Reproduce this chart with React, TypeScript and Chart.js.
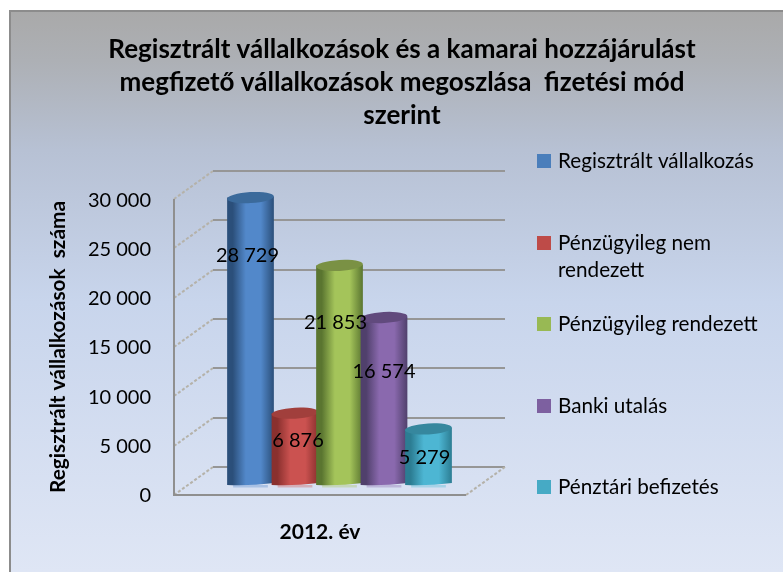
import React, { useEffect, useRef } from "react";
import { Chart, registerables, layouts } from "chart.js";

Chart.register(...registerables);

const FONT = "Lato, 'Open Sans', sans-serif";
const titleLines = [
  "Regisztrált vállalkozások és a kamarai hozzájárulást",
  "megfizető vállalkozások megoszlása  fizetési mód",
  "szerint",
];
const categories = ["2012. év"];
const yAxisTitle = "Regisztrált vállalkozások  száma";
const seriesNames = [
  "Regisztrált vállalkozás",
  "Pénzügyileg nem rendezett",
  "Pénzügyileg rendezett",
  "Banki utalás",
  "Pénztári befizetés",
];
const regisztralt = [28729];
const nemRendezett = [6876];
const rendezett = [21853];
const bankiUtalas = [16574];
const penztari = [5279];

const legendLines = [
  ["Regisztrált vállalkozás"],
  ["Pénzügyileg nem", "rendezett"],
  ["Pénzügyileg rendezett"],
  ["Banki utalás"],
  ["Pénztári befizetés"],
];

// style tables: [edge, mid, top cap, legend colour]
const palette = [
  { edge: "#2b4f7a", mid: "#5288ca", cap: "#3b6a9b", key: "#4a7ebb" },
  { edge: "#8a302e", mid: "#cb5250", cap: "#a13f3c", key: "#be4b48" },
  { edge: "#5a7530", mid: "#a4c45a", cap: "#7a9144", key: "#98b954" },
  { edge: "#50406c", mid: "#8a69ae", cap: "#614a7d", key: "#7d60a0" },
  { edge: "#2c7d93", mid: "#4db6d3", cap: "#36879e", key: "#46aac5" },
];
const labelShift = [
  [-3, 58],
  [3, 27],
  [-4, 57],
  [0, 54],
  [-4, 29],
];

const DEPTH_X = 39;
const DEPTH_Y = -28;
const fmt = (v: number) => String(v).replace(/\B(?=(\d{3})+$)/g, " ");

const backdrop = {
  id: "backdrop",
  beforeDraw(chart: any) {
    const { ctx, width, height } = chart;
    const g = ctx.createLinearGradient(0, 10, 0, height);
    g.addColorStop(0, "#a9a9a9");
    g.addColorStop(0.09, "#adb0b5");
    g.addColorStop(0.25, "#b7c1d4");
    g.addColorStop(0.52, "#c8d5ec");
    g.addColorStop(1, "#dfe6f5");
    ctx.save();
    ctx.fillStyle = g;
    ctx.fillRect(10, 11, width - 10, height - 11);
    ctx.strokeStyle = "#8c8c8c";
    ctx.lineWidth = 2;
    ctx.beginPath();
    ctx.moveTo(10, height);
    ctx.lineTo(10, 11);
    ctx.lineTo(width, 11);
    ctx.stroke();
    ctx.restore();
  },
};

const walls = {
  id: "walls",
  beforeDatasetsDraw(chart: any) {
    const { ctx, chartArea, scales } = chart;
    const { left, right, bottom, top } = chartArea;
    ctx.save();
    scales.y.ticks.forEach((t: any) => {
      const y = Math.round(scales.y.getPixelForValue(t.value));
      ctx.strokeStyle = "#b5b2a9";
      ctx.lineWidth = 2;
      ctx.setLineDash([3, 2]);
      ctx.beginPath();
      ctx.moveTo(left, y);
      ctx.lineTo(left + DEPTH_X, y + DEPTH_Y);
      ctx.stroke();
      ctx.setLineDash([]);
      ctx.strokeStyle = "#969696";
      ctx.lineWidth = 2;
      ctx.beginPath();
      ctx.moveTo(left + DEPTH_X, y + DEPTH_Y);
      ctx.lineTo(right + DEPTH_X, y + DEPTH_Y);
      ctx.stroke();
    });
    ctx.strokeStyle = "#b5b2a9";
    ctx.setLineDash([3, 2]);
    ctx.beginPath();
    ctx.moveTo(right, bottom);
    ctx.lineTo(right + DEPTH_X, bottom + DEPTH_Y);
    ctx.stroke();
    ctx.setLineDash([]);
    ctx.strokeStyle = "#8f8f8f";
    ctx.lineWidth = 2;
    ctx.beginPath();
    ctx.moveTo(left, top);
    ctx.lineTo(left, bottom);
    ctx.lineTo(right, bottom);
    ctx.stroke();
    ctx.restore();
  },
};

const cylinders = {
  id: "cylinders",
  afterDatasetsDraw(chart: any) {
    const { ctx } = chart;
    const metas = chart.getSortedVisibleDatasetMetas();
    ctx.save();
    metas.forEach((meta: any, i: number) => {
      const bar = meta.data[0];
      const c = palette[i];
      const w = bar.width;
      const cx = bar.x + DEPTH_X / 2;
      const topY = bar.y + DEPTH_Y / 2;
      const baseY = bar.base + DEPTH_Y / 2 + 4;
      const x0 = cx - w / 2;
      const rot = -0.06;
      // floor reflection
      ctx.globalAlpha = 0.35;
      ctx.fillStyle = c.mid;
      ctx.fillRect(x0 + 6, baseY, w - 12, 2.5);
      ctx.globalAlpha = 1;
      const g = ctx.createLinearGradient(x0, 0, x0 + w, 0);
      g.addColorStop(0, c.edge);
      g.addColorStop(0.12, c.edge);
      g.addColorStop(0.4, c.mid);
      g.addColorStop(0.72, c.mid);
      g.addColorStop(1, c.edge);
      ctx.fillStyle = g;
      ctx.beginPath();
      ctx.moveTo(x0, topY);
      ctx.lineTo(x0 + w, topY - 1);
      ctx.lineTo(x0 + w, baseY - 2);
      ctx.quadraticCurveTo(cx, baseY + 1, x0, baseY);
      ctx.closePath();
      ctx.fill();
      ctx.fillStyle = c.cap;
      ctx.beginPath();
      ctx.ellipse(cx, topY, w / 2, 5.5, rot, 0, Math.PI * 2);
      ctx.fill();
    });
    // value labels sit above every cylinder
    ctx.fillStyle = "#000";
    ctx.font = `20px ${FONT}`;
    ctx.textAlign = "center";
    ctx.textBaseline = "middle";
    metas.forEach((meta: any, i: number) => {
      const bar = meta.data[0];
      const value = chart.data.datasets[meta.index].data[0];
      ctx.fillText(
        fmt(value),
        bar.x + DEPTH_X / 2 + labelShift[i][0],
        bar.y + DEPTH_Y / 2 + labelShift[i][1]
      );
    });
    ctx.restore();
  },
};

const legendBox = {
  id: "legendBox",
  start(chart: any) {
    const box: any = {
      position: "right",
      weight: 10,
      fullSize: false,
      options: {},
      isHorizontal: () => false,
      update(_w: number, h: number) {
        box.width = 317;
        box.height = h;
      },
      draw() {
        const { ctx } = chart;
        const rows = [161, 243, 324, 406, 487];
        ctx.save();
        ctx.font = `20.7px ${FONT}`;
        ctx.textAlign = "left";
        ctx.textBaseline = "middle";
        legendLines.forEach((lines, i) => {
          const y = rows[i];
          ctx.fillStyle = palette[i].key;
          ctx.fillRect(537, y - 7, 14, 14);
          ctx.fillStyle = "#000";
          lines.forEach((line, k) => ctx.fillText(line, 558, y + k * 27));
        });
        ctx.restore();
      },
    };
    layouts.addBox(chart, box);
  },
};

export default function App() {
  const ref = useRef<HTMLCanvasElement>(null);
  useEffect(() => {
    const series = [regisztralt, nemRendezett, rendezett, bankiUtalas, penztari];
    const chart = new Chart(ref.current as HTMLCanvasElement, {
      type: "bar",
      data: {
        labels: categories,
        datasets: series.map((data, i) => ({
          label: seriesNames[i],
          data,
          backgroundColor: "rgba(0,0,0,0)",
          categoryPercentage: 0.762,
          barPercentage: 1.05,
        })),
      },
      plugins: [backdrop, walls, cylinders, legendBox],
      options: {
        responsive: false,
        animation: false,
        layout: { padding: { left: 21, right: 0, top: 0, bottom: 0 } },
        plugins: {
          legend: { display: false },
          tooltip: { enabled: false },
          title: {
            display: true,
            text: titleLines,
            color: "#000",
            font: { family: FONT, size: 26, weight: "bold", lineHeight: 1.27 },
            padding: { top: 33, bottom: 67 },
          },
        },
        scales: {
          x: {
            grid: { display: false },
            border: { display: false },
            ticks: {
              color: "#000",
              padding: 17,
              font: { family: FONT, size: 21, weight: "bold" },
            },
            afterFit(s: any) {
              s.height = 77;
            },
          },
          y: {
            min: 0,
            max: 30000,
            grid: { display: false },
            border: { display: false },
            ticks: {
              stepSize: 5000,
              color: "#000",
              padding: 15,
              labelOffset: 1,
              font: { family: FONT, size: 20 },
              callback: (v: any) => fmt(v),
            },
            title: {
              display: true,
              text: yAxisTitle,
              color: "#000",
              padding: { top: 25, bottom: 0 },
              font: { family: FONT, size: 20.8, weight: "bold" },
            },
            afterFit(s: any) {
              s.width = 153;
            },
          },
        },
      } as any,
    });
    return () => chart.destroy();
  }, []);
  return (
    <div style={{ position: "absolute", left: 0, top: 0, width: 783, height: 572, background: "#fff" }}>
      <canvas ref={ref} width={783} height={572} style={{ display: "block" }} />
    </div>
  );
}
